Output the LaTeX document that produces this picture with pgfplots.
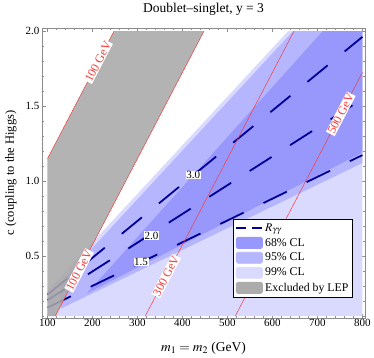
\documentclass[border=0pt]{standalone}
\usepackage{mathptmx}
\usepackage[no-math]{fontspec}
\setmainfont{Liberation Serif}
\usepackage{pgfplots}
\pgfplotsset{compat=1.18}
\usetikzlibrary{calc}

\definecolor{cl68}{RGB}{152,152,252}
\definecolor{cl95}{RGB}{182,182,255}
\definecolor{cl99}{RGB}{218,218,255}
\definecolor{lep}{RGB}{168,168,168}
\definecolor{ryy}{RGB}{0,0,150}
\definecolor{mred}{RGB}{245,60,60}

\begin{document}
\begin{tikzpicture}
\begin{axis}[
  scale only axis, width=323pt, height=290pt,
  xmin=87.8, xmax=805.6, ymin=0.087, ymax=2.02,
  axis line style={color=black!45, line width=0.6pt},
  every tick/.style={color=black!45, line width=0.5pt},
  tick align=inside,
  xtick={100,200,...,800}, ytick={0.5,1.0,1.5,2.0},
  minor xtick={100,120,...,800}, minor ytick={0.1,0.2,...,2.0},
  major tick length=4pt, minor tick length=2pt,
  tick label style={font=\fontsize{11}{12}\selectfont, /pgf/number format/assume math mode=true},
  yticklabel style={/pgf/number format/fixed, /pgf/number format/fixed zerofill, /pgf/number format/precision=1, xshift=1pt},
  xticklabel style={yshift=2.5pt},
  title={Doublet–singlet, y = 3},
  title style={font=\fontsize{13.5}{15}\selectfont, at={(axis description cs:0.5,1.01)}, anchor=south},
  xlabel={$m_1 = m_2$ (GeV)},
  xlabel style={font=\fontsize{13.5}{15}\selectfont, at={(axis description cs:0.5,-0.07)}, anchor=north},
  ylabel={c (coupling to the Higgs)},
  ylabel style={font=\fontsize{12.5}{14}\selectfont, at={(axis description cs:-0.068,0.5)}, anchor=south},
  legend cell align=left,
  legend style={at={(0.592,0.343)}, anchor=north west, draw=black, line width=0.8pt, fill=white,
    font=\fontsize{11.8}{12}\selectfont, inner xsep=2pt, inner ysep=2.5pt, row sep=1.6pt},
]
% CL bands
\addplot[fill=cl99, draw=none, forget plot] coordinates {(100,0.1) (100,0.267) (635,2.0) (800,2.0) (800,0.1)} -- cycle;
\addplot[fill=cl95, draw=none, forget plot] coordinates {(130,0.15) (130,0.328) (646,2.0) (800,2.0) (800,1.12)} -- cycle;
\addplot[fill=cl68, draw=none, forget plot] coordinates {(187,0.25) (712,2.0) (800,2.0) (800,1.19)} -- cycle;

% R_gamma gamma contours
\addplot[ryy, line width=1.8pt, dash pattern=on 26pt off 22pt, forget plot] coordinates {(100,0.156) (800,1.173)};
\addplot[ryy, line width=1.8pt, dash pattern=on 26pt off 22pt, forget plot] coordinates {(100,0.206) (800,1.547)};
\addplot[ryy, line width=1.8pt, dash pattern=on 26pt off 22pt, forget plot] coordinates {(100,0.243) (800,1.961)};

% LEP exclusion
\addplot[fill=lep, fill opacity=0.88, draw=none, forget plot] coordinates {(100,0.1) (100,1.149) (248,2.0) (448,2.0) (117.4,0.1)} -- cycle;

% lightest mass lines
\addplot[mred, line width=0.5pt, forget plot] coordinates {(100,1.149) (248,2.0)}
  node[pos=0.76, sloped, fill=white, inner sep=0.8pt, text=mred, font=\fontsize{12}{12}\selectfont] {100 GeV};
\addplot[mred, line width=0.5pt, forget plot] coordinates {(117.4,0.1) (448,2.0)}
  node[pos=0.16, sloped, fill=white, inner sep=0.8pt, text=mred, font=\fontsize{12}{12}\selectfont] {100 GeV};
\addplot[mred, line width=0.5pt, forget plot] coordinates {(317.4,0.1) (648,2.0)}
  node[pos=0.14, sloped, fill=white, inner sep=0.8pt, text=mred, font=\fontsize{12}{12}\selectfont] {300 GeV};
\addplot[mred, line width=0.5pt, forget plot] coordinates {(517.4,0.1) (800,1.724)}
  node[pos=0.83, sloped, fill=white, inner sep=0.8pt, text=mred, font=\fontsize{12}{12}\selectfont] {500 GeV};

% contour labels
\node[fill=white, inner sep=0.6pt, font=\fontsize{11}{11}\selectfont] at (axis cs:308,0.46) {1.5};
\node[fill=white, inner sep=0.6pt, font=\fontsize{11}{11}\selectfont] at (axis cs:331,0.635) {2.0};
\node[fill=white, inner sep=0.6pt, font=\fontsize{11}{11}\selectfont] at (axis cs:424,1.04) {3.0};

% legend
\addlegendimage{legend image code/.code={\draw[ryy, line width=1.6pt, dash pattern=on 10pt off 6pt] (0pt,0pt) -- (26pt,0pt);}}
\addlegendentry{$R_{\gamma\gamma}$}
\addlegendimage{legend image code/.code={\fill[cl68, rounded corners=1.5pt] (0pt,-5.5pt) rectangle (26pt,5.5pt);}}
\addlegendentry{68\% CL}
\addlegendimage{legend image code/.code={\fill[cl95, rounded corners=1.5pt] (0pt,-5.5pt) rectangle (26pt,5.5pt);}}
\addlegendentry{95\% CL}
\addlegendimage{legend image code/.code={\fill[cl99, rounded corners=1.5pt] (0pt,-5.5pt) rectangle (26pt,5.5pt);}}
\addlegendentry{99\% CL}
\addlegendimage{legend image code/.code={\fill[lep!95!white, rounded corners=1.5pt] (0pt,-5.5pt) rectangle (26pt,5.5pt);}}
\addlegendentry{Excluded by LEP}
\end{axis}
\path ($(current axis.south west)+(-42pt,-40pt)$) rectangle ($(current axis.north east)+(9pt,23pt)$);
\end{tikzpicture}
\end{document}
